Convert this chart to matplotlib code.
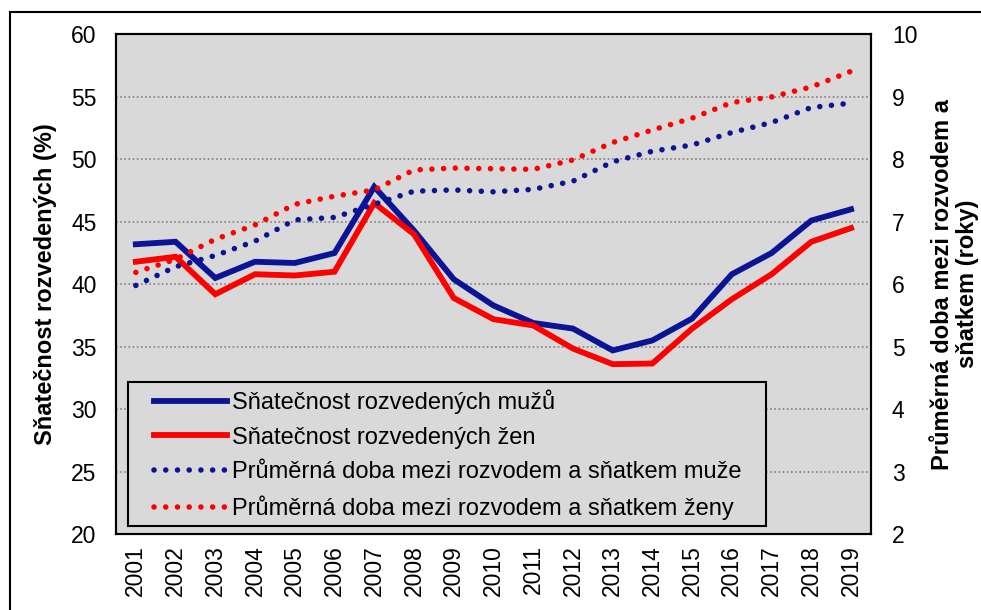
import numpy as np
import matplotlib.pyplot as plt
from matplotlib.patches import Rectangle

plt.rcParams['font.family'] = ['Liberation Sans', 'DejaVu Sans']

roky = [str(r) for r in range(2001, 2020)]
snat_muzi = [43.2, 43.4, 40.5, 41.8, 41.7, 42.5, 47.8, 44.3, 40.4, 38.3,
             36.9, 36.45, 34.7, 35.5, 37.25, 40.8, 42.5, 45.1, 46.0]
snat_zeny = [41.8, 42.2, 39.2, 40.8, 40.7, 41.0, 46.5, 44.0, 38.9, 37.2,
             36.7, 34.85, 33.6, 33.65, 36.45, 38.8, 40.8, 43.4, 44.5]
doba_muzi = [5.98, 6.28, 6.46, 6.69, 7.03, 7.07, 7.28, 7.49, 7.51, 7.48,
             7.52, 7.65, 7.96, 8.13, 8.23, 8.43, 8.59, 8.83, 8.9]
doba_zeny = [6.19, 6.4, 6.72, 6.95, 7.28, 7.41, 7.51, 7.83, 7.86, 7.85,
             7.84, 7.99, 8.27, 8.47, 8.66, 8.91, 9.0, 9.16, 9.41]

modra = '#0c1496'
cervena = '#ff0000'
seda = '#d9d9d9'
x = np.arange(len(roky))

fig = plt.figure(figsize=(9.81, 6.10), dpi=100)
ax = fig.add_axes([0.1182, 0.1246, 0.7696, 0.8189])
ax.set_facecolor(seda)
ax2 = ax.twinx()

tecky = (0, (0.01, 2.1))
l1, = ax.plot(x, snat_muzi, color=modra, lw=4.2, solid_joinstyle='miter', label='Sňatečnost rozvedených mužů')
l2, = ax.plot(x, snat_zeny, color=cervena, lw=4.2, solid_joinstyle='miter', label='Sňatečnost rozvedených žen')
l3, = ax2.plot(x, doba_muzi, color=modra, lw=4, linestyle=tecky, dash_capstyle='round',
               label='Průměrná doba mezi rozvodem a sňatkem muže')
l4, = ax2.plot(x, doba_zeny, color=cervena, lw=4, linestyle=tecky, dash_capstyle='round',
               label='Průměrná doba mezi rozvodem a sňatkem ženy')

ax.set_xlim(-0.5, 18.5)
ax.set_ylim(20, 60)
ax2.set_ylim(2, 10)
ax.set_yticks(np.arange(20, 61, 5))
ax2.set_yticks(np.arange(2, 11, 1))
ax.set_xticks(x)
ax.set_xticklabels(roky, rotation=90, fontsize=16.5)
ax.tick_params(axis='y', labelsize=16.5, length=0, pad=14)
ax2.tick_params(axis='y', labelsize=16.5, length=0, pad=15)
ax.tick_params(axis='x', length=0, pad=8)
for g in [25, 30, 35, 40, 45, 50, 55]:
    ax.axhline(g, color='#808080', lw=1.2, linestyle=(0, (1, 1.5)), zorder=0.5)

for a in (ax, ax2):
    for s in a.spines.values():
        s.set_linewidth(1.5)
        s.set_color('black')

ax.set_ylabel('Sňatečnost rozvedených (%)', fontsize=17, fontweight='bold', labelpad=10)
fig.text(0.9735, 0.5344, 'Průměrná doba mezi rozvodem a\nsňatkem (roky)', fontsize=17,
         fontweight='bold', rotation=90, ha='center', va='center', multialignment='center',
         linespacing=1.1)

# ramecek legendy
ax2.add_patch(Rectangle((0.0159, 0.016), 0.845, 0.288, transform=ax2.transAxes,
                        facecolor=seda, edgecolor='black', lw=1.5, zorder=4))
leg = ax2.legend(handles=[l1, l2, l3, l4], loc='upper left', bbox_to_anchor=(0.0503, 0.289),
                 fontsize=17, frameon=False, handlelength=3.1, labelspacing=0.53,
                 borderpad=0, borderaxespad=0, handletextpad=0.2)
leg.set_zorder(5)

fig.patches.append(Rectangle((10 / 981, -0.1), 1.1, (610 - 12) / 610 + 0.1, transform=fig.transFigure,
                             fill=False, edgecolor='black', lw=1.5))

fig.savefig('out.png', dpi=100)
